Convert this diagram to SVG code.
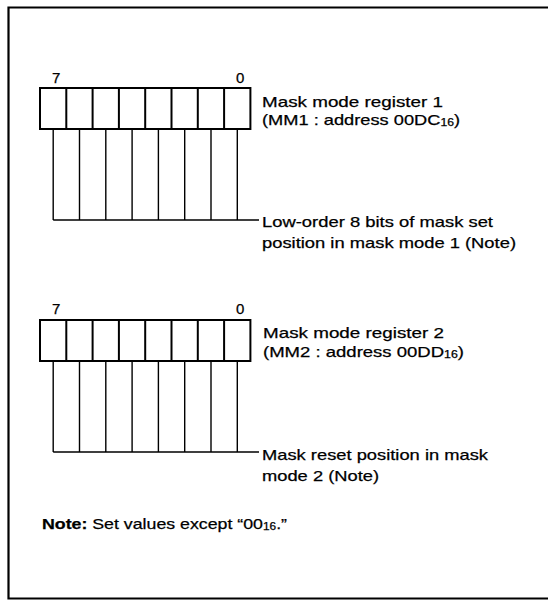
<svg xmlns="http://www.w3.org/2000/svg" width="548" height="600" viewBox="0 0 548 600">
<style>
text{font-family:"Liberation Sans",Arial,sans-serif;font-size:15px;fill:#000;stroke:#000;stroke-width:0.25}
.sub{font-size:10px}
.cell{fill:#fff;stroke:#000;stroke-width:2}
.ln{fill:none;stroke:#000;stroke-width:1.4}
.frame{fill:none;stroke:#000;stroke-width:2.2}
</style>
<rect width="548" height="600" fill="#fff"/>
<g id="frame">
<polyline class="frame" points="548,7.5 8.5,7.5 8.5,598.5 548,598.5"/>
</g>
<g id="connectors">
<path class="ln" d="M53.2,129V220M79.5,129V220M105.8,129V220M132.1,129V220M158.4,129V220M184.7,129V220M211,129V220M237.3,129V220M53.2,220H259"/>
<path class="ln" d="M53.2,361V452M79.5,361V452M105.8,361V452M132.1,361V452M158.4,361V452M184.7,361V452M211,361V452M237.3,361V452M53.2,452H259"/>
</g>
<g id="register1">
<rect class="cell" x="40" y="88" width="210.4" height="41"/>
<path class="ln" style="stroke-width:2" d="M66.3,88V129M92.6,88V129M118.9,88V129M145.2,88V129M171.5,88V129M197.8,88V129M224.1,88V129"/>
<text x="52" y="83">7</text>
<text x="236" y="83">0</text>
<text x="262" y="107" textLength="181" lengthAdjust="spacingAndGlyphs">Mask mode register 1</text>
<text x="262" y="125" textLength="198" lengthAdjust="spacingAndGlyphs">(MM1 : address 00DC<tspan class="sub" dy="1">16</tspan><tspan dy="-1">)</tspan></text>
</g>
<g id="label1">
<text x="262" y="227" textLength="231" lengthAdjust="spacingAndGlyphs">Low-order 8 bits of mask set</text>
<text x="262" y="248" textLength="254" lengthAdjust="spacingAndGlyphs">position in mask mode 1 (Note)</text>
</g>
<g id="register2">
<rect class="cell" x="40" y="320" width="210.4" height="41"/>
<path class="ln" style="stroke-width:2" d="M66.3,320V361M92.6,320V361M118.9,320V361M145.2,320V361M171.5,320V361M197.8,320V361M224.1,320V361"/>
<text x="52" y="314">7</text>
<text x="236" y="314">0</text>
<text x="263" y="338" textLength="181" lengthAdjust="spacingAndGlyphs">Mask mode register 2</text>
<text x="263" y="356.5" textLength="201" lengthAdjust="spacingAndGlyphs">(MM2 : address 00DD<tspan class="sub" dy="1">16</tspan><tspan dy="-1">)</tspan></text>
</g>
<g id="label2">
<text x="262" y="460" textLength="226" lengthAdjust="spacingAndGlyphs">Mask reset position in mask</text>
<text x="262" y="480.5" textLength="117" lengthAdjust="spacingAndGlyphs">mode 2 (Note)</text>
</g>
<g id="note">
<text x="42" y="529" textLength="245" lengthAdjust="spacingAndGlyphs"><tspan font-weight="bold">Note:</tspan> Set values except “00<tspan class="sub" dy="1">16</tspan><tspan dy="-1">.”</tspan></text>
</g>
</svg>
